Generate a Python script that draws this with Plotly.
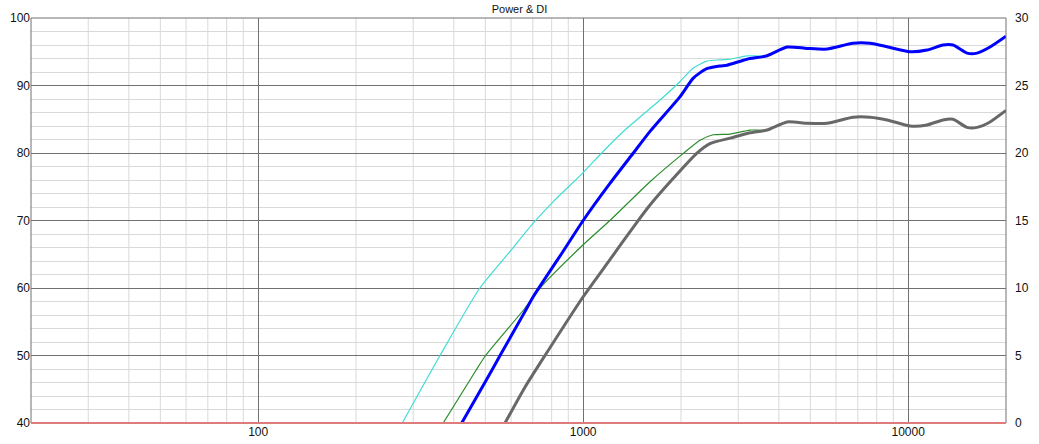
import plotly.graph_objects as go

# ---- data (frequency in Hz, level in dB) ----
blue_f = [423, 504, 555, 662, 702, 875, 1000, 1209, 1427, 1606, 1987, 2182, 2400, 2640, 2770,
          3192, 3679, 4238, 4886, 5626, 6767, 7630, 8610, 10130, 11430, 12800, 13740, 15170, 16290, 17860, 20000]
blue_v = [40, 46.4, 50, 56.5, 58.7, 65.7, 70, 75.5, 80, 83.2, 88.35, 91.1, 92.5, 92.9, 93.0,
          93.9, 94.4, 95.7, 95.5, 95.4, 96.25, 96.25, 95.75, 95.0, 95.26, 96.0, 96.0, 94.8, 94.8, 95.7, 97.3]

gray_f = [575, 662, 763, 1000, 1209, 1461, 1606, 1894, 2235, 2456, 2832, 3262, 3679, 4238, 4886, 5626, 6767, 7630,
          8610, 10130, 11430, 12800, 13740, 15170, 16290, 17860, 20000]
gray_v = [40, 45.3, 50, 58.7, 64.2, 69.7, 72.3, 76.25, 79.95, 81.4, 82.2, 83.0, 83.4, 84.6, 84.4, 84.4, 85.3, 85.3,
          84.9, 84.0, 84.15, 84.9, 85.0, 83.8, 83.8, 84.6, 86.3]

green_f = [371, 465, 501, 662, 737, 1000, 1209, 1606, 2033, 2289, 2512, 2832, 3262, 3679, 4238, 4886,
           5626, 6767, 7630, 8610, 10130, 11430, 12800, 13740, 15170, 16290, 17860, 20000]
green_v = [40, 47.6, 50, 57.0, 60, 66.4, 70, 75.75, 79.95, 81.9, 82.7, 82.8, 83.4, 83.4, 84.6, 84.4,
           84.4, 85.3, 85.3, 84.9, 84.0, 84.15, 84.9, 85.0, 83.8, 83.8, 84.6, 86.3]

cyan_f = [277.6, 362.7, 481, 600, 702, 809, 1000, 1140, 1345, 1724, 1987, 2182, 2400, 2640, 2832, 3192, 3679,
          4238, 4886, 5626, 6767, 7630, 8610, 10130, 11430, 12800, 13740, 15170, 16290, 17860, 20000]
cyan_v = [40, 50, 60, 65.6, 69.6, 72.8, 77.1, 80, 83.4, 87.85, 90.6, 92.6, 93.6, 93.8, 93.9, 94.4, 94.4,
          95.7, 95.5, 95.4, 96.25, 96.25, 95.75, 95.0, 95.26, 96.0, 96.0, 94.8, 94.8, 95.7, 97.3]

x_ticks = [100, 1000, 10000]
x_tick_text = ["100", "1000", "10000"]
left_ticks = [40, 50, 60, 70, 80, 90, 100]
right_ticks = [0, 5, 10, 15, 20, 25, 30]

minor_x = [m * d for d in (10, 100, 1000) for m in range(2, 10) if 20 < m * d < 20000]

MAJOR = "#707070"
MINOR = "#d9d9d9"
FONT = "Liberation Sans"

fig = go.Figure()
common = dict(mode="lines", hoverinfo="skip", showlegend=False)
spl = dict(shape="spline", smoothing=0.6)
fig.add_trace(go.Scatter(x=cyan_f, y=cyan_v, line=dict(color="#40dcd4", width=1.2, **spl), **common))
fig.add_trace(go.Scatter(x=green_f, y=green_v, line=dict(color="#2a8c2a", width=1.2, **spl), **common))
fig.add_trace(go.Scatter(x=blue_f, y=blue_v, line=dict(color="#0000ff", width=3, **spl), **common))
fig.add_trace(go.Scatter(x=gray_f, y=gray_v, line=dict(color="#686868", width=3, **spl), **common))
# right-hand axis (0..30)
fig.add_trace(go.Scatter(x=[20, 20000], y=[None, None], yaxis="y2", **common))

shapes = [dict(type="line", xref="x", yref="paper", x0=v, x1=v, y0=0, y1=1,
               line=dict(color=MINOR, width=1), layer="below") for v in minor_x]
shapes += [
    dict(type="rect", xref="paper", yref="paper", x0=0, x1=1, y0=0, y1=1,
         line=dict(color=MAJOR, width=1), layer="above"),
    dict(type="line", xref="paper", yref="paper", x0=0, x1=1, y0=0, y1=0,
         line=dict(color="#e07b7b", width=2), layer="above"),
]

fig.update_layout(
    width=1039, height=444,
    margin=dict(l=31, r=33, t=18, b=21, autoexpand=False),
    paper_bgcolor="white", plot_bgcolor="white",
    font=dict(family=FONT, size=12, color="#111111"),
    title=dict(text="Power & DI", x=0.5, xanchor="center", y=1 - 9 / 444, yanchor="middle",
               yref="container", font=dict(family=FONT, size=11, color="#111111")),
    xaxis=dict(type="log", range=[1.30103, 4.30103], tickvals=x_ticks, ticktext=x_tick_text,
               showgrid=True, gridcolor=MAJOR, gridwidth=1, zeroline=False, ticks="",
               showline=False, automargin=False, tickfont=dict(size=12)),
    yaxis=dict(range=[40, 100], tickvals=left_ticks, showgrid=True, gridcolor=MAJOR, gridwidth=1,
               zeroline=False, ticks="", showline=False, automargin=False,
               minor=dict(dtick=2, showgrid=True, gridcolor=MINOR, gridwidth=1, ticks=""),
               tickfont=dict(size=12)),
    yaxis2=dict(range=[0, 30], tickvals=right_ticks, overlaying="y", side="right", showgrid=False,
                zeroline=False, ticks="", showline=False, automargin=False,
                ticklabelstandoff=8, tickfont=dict(size=12)),
    shapes=shapes,
)

fig.write_html("out.html", config={"displayModeBar": False},
               post_script="document.body.style.margin='0';document.body.style.overflow='hidden';")
